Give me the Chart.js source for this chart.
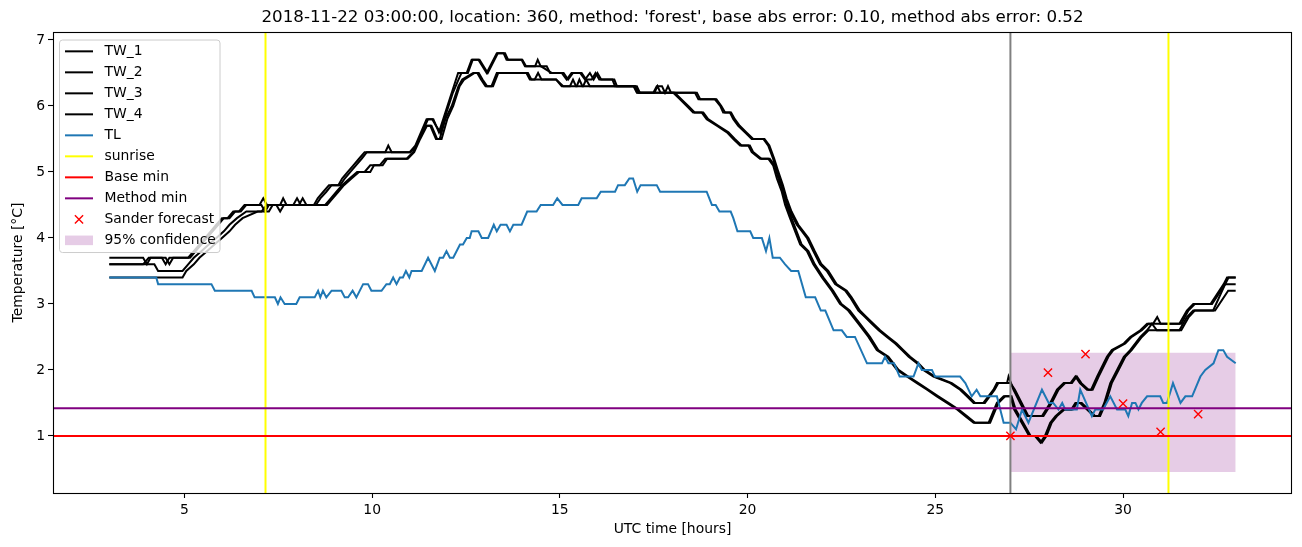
<!DOCTYPE html>
<html>
<head>
<meta charset="utf-8">
<script src="https://cdn.jsdelivr.net/npm/chart.js@4.4.0/dist/chart.umd.min.js"></script>
<style>
html, body { margin: 0; padding: 0; background: #ffffff; }
</style>
</head>
<body>
<canvas id="grafico" width="1302" height="547"></canvas>
<script>

/* EJES */
const xMin = 1.5
const xMax = 34.5
const yMin = 0.135
const yMax = 7.12
const xTicks = [5, 10, 15, 20, 25, 30]
const yTicks = [1, 2, 3, 4, 5, 6, 7]

/* SERIES [hora, temperatura] */
const tw1 = [[3.0,3.7],[3.9,3.7],[4.0,3.6],[4.1,3.7],[4.5,3.7],[4.6,3.6],[4.7,3.7],[5.1,3.7],[5.25,3.8],[5.4,3.9],[5.55,4.0],[5.7,4.1],[5.85,4.2],[6.0,4.3],[6.15,4.3],[6.3,4.4],[6.45,4.4],[6.6,4.5],[7.05,4.5],[7.15,4.4],[7.25,4.5],[7.55,4.5],[7.63,4.6],[7.72,4.5],[8.05,4.5],[8.15,4.6],[8.25,4.5],[8.45,4.5],[8.55,4.6],[8.7,4.7],[8.85,4.8],[9.1,4.8],[9.2,4.9],[9.35,5.0],[9.5,5.1],[9.65,5.2],[9.8,5.3],[10.35,5.3],[10.43,5.4],[10.52,5.3],[11.0,5.3],[11.15,5.4],[11.3,5.6],[11.45,5.8],[11.63,5.8],[11.78,5.6],[11.95,5.9],[12.12,6.2],[12.29,6.5],[12.52,6.5],[12.65,6.7],[12.83,6.7],[13.05,6.5],[13.32,6.8],[13.54,6.8],[13.62,6.7],[13.98,6.7],[14.07,6.6],[14.34,6.6],[14.41,6.7],[14.49,6.6],[14.65,6.6],[14.74,6.5],[15.05,6.5],[15.18,6.4],[15.31,6.5],[15.54,6.5],[15.67,6.4],[15.8,6.5],[15.9,6.4],[16.0,6.5],[16.1,6.4],[16.4,6.4],[16.47,6.3],[16.96,6.3],[17.05,6.2],[17.49,6.2],[17.58,6.3],[17.72,6.3],[17.8,6.2],[17.88,6.3],[17.96,6.2],[18.6,6.2],[18.69,6.1],[19.13,6.1],[19.27,6.0],[19.35,5.9],[19.53,5.9],[19.62,5.8],[19.75,5.7],[19.93,5.6],[20.11,5.5],[20.42,5.5],[20.55,5.4],[20.68,5.2],[20.78,5.0],[20.91,4.8],[21.0,4.6],[21.13,4.4],[21.31,4.2],[21.45,4.1],[21.58,4.0],[21.75,3.8],[21.93,3.6],[22.11,3.5],[22.33,3.3],[22.6,3.2],[22.73,3.1],[22.95,2.9],[23.13,2.8],[23.31,2.7],[23.49,2.6],[23.71,2.5],[23.93,2.4],[24.11,2.3],[24.29,2.2],[24.51,2.1],[24.68,2.0],[24.95,1.9],[25.4,1.8],[25.66,1.7],[25.84,1.6],[26.02,1.5],[26.28,1.5],[26.55,1.7],[26.64,1.8],[26.91,1.8],[26.95,1.9],[27.08,1.7],[27.26,1.5],[27.44,1.3],[27.84,1.3],[28.06,1.5],[28.24,1.7],[28.42,1.8],[28.6,1.8],[28.73,1.9],[28.85,1.8],[29.04,1.7],[29.15,1.7],[29.31,1.9],[29.57,2.2],[29.7,2.3],[30.02,2.4],[30.19,2.5],[30.46,2.6],[30.64,2.7],[30.8,2.7],[30.91,2.8],[31.0,2.7],[31.5,2.7],[31.7,2.9],[31.87,3.0],[32.33,3.0],[32.68,3.3],[32.77,3.4],[33.0,3.4]]

const tw2 = [[3.0,3.6],[3.9,3.6],[4.05,3.7],[4.4,3.7],[4.5,3.6],[4.6,3.7],[5.15,3.7],[5.3,3.8],[5.45,3.9],[5.6,4.0],[5.75,4.1],[5.9,4.2],[6.05,4.3],[6.2,4.3],[6.35,4.4],[6.5,4.4],[6.65,4.5],[7.0,4.5],[7.1,4.6],[7.2,4.5],[7.9,4.5],[8.0,4.6],[8.1,4.5],[8.5,4.5],[8.62,4.6],[8.78,4.7],[8.92,4.8],[9.15,4.8],[9.27,4.9],[9.42,5.0],[9.57,5.1],[9.72,5.2],[9.86,5.3],[11.02,5.3],[11.18,5.4],[11.33,5.6],[11.49,5.8],[11.6,5.8],[11.7,5.7],[11.82,5.6],[11.98,5.9],[12.15,6.2],[12.3,6.4],[12.38,6.5],[12.55,6.5],[12.68,6.7],[12.86,6.7],[13.08,6.5],[13.35,6.8],[13.5,6.8],[13.58,6.7],[14.0,6.7],[14.1,6.6],[14.5,6.6],[14.78,6.5],[15.1,6.5],[15.22,6.4],[15.35,6.5],[15.58,6.5],[15.7,6.4],[15.85,6.4],[15.95,6.5],[16.05,6.4],[16.45,6.4],[16.52,6.3],[17.0,6.3],[17.1,6.2],[17.52,6.2],[17.6,6.3],[17.68,6.2],[18.65,6.2],[18.74,6.1],[19.17,6.1],[19.3,6.0],[19.4,5.9],[19.56,5.9],[19.66,5.8],[19.79,5.7],[19.97,5.6],[20.15,5.5],[20.45,5.5],[20.58,5.4],[20.71,5.2],[20.82,5.0],[20.94,4.8],[21.04,4.6],[21.17,4.4],[21.35,4.2],[21.62,4.0],[21.79,3.8],[21.97,3.6],[22.15,3.5],[22.37,3.3],[22.64,3.2],[22.77,3.1],[22.99,2.9],[23.17,2.8],[23.35,2.7],[23.53,2.6],[23.75,2.5],[23.97,2.4],[24.15,2.3],[24.33,2.2],[24.55,2.1],[24.72,2.0],[24.99,1.9],[25.44,1.8],[25.7,1.7],[25.88,1.6],[26.06,1.5],[26.32,1.5],[26.58,1.7],[26.68,1.8],[27.0,1.8],[27.12,1.7],[27.3,1.5],[27.48,1.3],[27.88,1.3],[28.1,1.5],[28.28,1.7],[28.46,1.8],[28.64,1.8],[28.77,1.9],[28.89,1.8],[29.08,1.7],[29.19,1.7],[29.35,1.9],[29.61,2.2],[29.74,2.3],[30.06,2.4],[30.23,2.5],[30.5,2.6],[30.68,2.7],[31.55,2.7],[31.74,2.9],[31.91,3.0],[32.37,3.0],[32.72,3.3],[32.81,3.4],[33.0,3.4]]

const tw3 = [[3.0,3.6],[4.2,3.6],[4.3,3.5],[4.95,3.5],[5.1,3.6],[5.25,3.7],[5.45,3.8],[5.65,3.9],[5.85,4.0],[6.05,4.1],[6.2,4.2],[6.4,4.3],[6.65,4.4],[7.05,4.4],[7.2,4.5],[7.45,4.5],[7.55,4.4],[7.65,4.5],[8.75,4.5],[8.9,4.6],[9.05,4.7],[9.2,4.8],[9.4,4.9],[9.6,5.0],[9.8,5.0],[9.95,5.1],[10.2,5.1],[10.35,5.2],[10.92,5.2],[11.09,5.3],[11.25,5.5],[11.42,5.7],[11.55,5.7],[11.7,5.5],[11.8,5.5],[11.95,5.8],[12.12,6.0],[12.3,6.3],[12.4,6.4],[12.69,6.5],[12.8,6.5],[12.9,6.4],[13.02,6.3],[13.18,6.3],[13.32,6.5],[14.11,6.5],[14.2,6.4],[14.33,6.4],[14.42,6.5],[14.51,6.4],[14.9,6.4],[15.05,6.3],[15.27,6.3],[15.35,6.4],[15.43,6.3],[15.62,6.3],[15.7,6.4],[15.8,6.3],[17.0,6.3],[17.08,6.2],[18.02,6.2],[18.2,6.1],[18.38,6.0],[18.55,5.9],[18.78,5.9],[18.91,5.8],[19.18,5.7],[19.45,5.6],[19.62,5.5],[19.8,5.4],[20.02,5.4],[20.11,5.3],[20.33,5.2],[20.55,5.2],[20.68,5.1],[20.78,4.9],[20.91,4.7],[21.0,4.5],[21.13,4.3],[21.4,3.9],[21.58,3.8],[21.75,3.6],[21.98,3.4],[22.24,3.2],[22.46,3.0],[22.68,2.9],[22.95,2.7],[23.22,2.5],[23.44,2.3],[23.71,2.2],[23.98,2.0],[24.24,1.9],[24.51,1.8],[24.78,1.7],[25.04,1.6],[25.31,1.5],[25.58,1.4],[25.8,1.3],[26.02,1.2],[26.42,1.2],[26.64,1.5],[26.82,1.6],[27.0,1.6],[27.1,1.4],[27.3,1.2],[27.5,1.0],[27.65,1.0],[27.8,0.9],[27.92,1.0],[28.06,1.2],[28.2,1.3],[28.4,1.4],[28.62,1.4],[28.73,1.5],[28.86,1.5],[29.04,1.4],[29.22,1.3],[29.35,1.3],[29.5,1.5],[29.66,1.8],[29.84,2.0],[30.02,2.2],[30.19,2.3],[30.46,2.5],[30.64,2.6],[30.77,2.7],[30.9,2.6],[31.5,2.6],[31.7,2.8],[31.87,2.9],[32.4,2.9],[32.72,3.3],[33.0,3.3]]

const tw4 = [[3.0,3.4],[4.95,3.4],[5.05,3.5],[5.25,3.6],[5.4,3.7],[5.6,3.8],[5.8,3.9],[6.0,4.0],[6.2,4.1],[6.35,4.2],[6.55,4.3],[6.95,4.4],[7.25,4.4],[7.35,4.5],[8.8,4.5],[8.95,4.6],[9.1,4.7],[9.25,4.8],[9.45,4.9],[9.65,5.0],[9.95,5.0],[10.05,5.1],[10.28,5.1],[10.4,5.2],[10.95,5.2],[11.12,5.3],[11.28,5.5],[11.46,5.7],[11.58,5.7],[11.73,5.5],[11.85,5.5],[12.0,5.8],[12.16,6.0],[12.33,6.3],[12.45,6.4],[12.73,6.5],[12.84,6.5],[12.94,6.4],[13.06,6.3],[13.22,6.3],[13.36,6.5],[14.15,6.5],[14.24,6.4],[14.9,6.4],[15.09,6.3],[15.45,6.3],[15.52,6.4],[15.6,6.3],[17.05,6.3],[17.13,6.2],[18.06,6.2],[18.24,6.1],[18.42,6.0],[18.59,5.9],[18.82,5.9],[18.95,5.8],[19.22,5.7],[19.49,5.6],[19.66,5.5],[19.84,5.4],[20.06,5.4],[20.15,5.3],[20.37,5.2],[20.59,5.2],[20.72,5.1],[20.82,4.9],[20.95,4.7],[21.04,4.5],[21.17,4.3],[21.44,3.9],[21.62,3.8],[21.79,3.6],[22.02,3.4],[22.28,3.2],[22.5,3.0],[22.72,2.9],[22.99,2.7],[23.26,2.5],[23.48,2.3],[23.75,2.2],[24.02,2.0],[24.28,1.9],[24.55,1.8],[24.82,1.7],[25.08,1.6],[25.35,1.5],[25.62,1.4],[25.84,1.3],[26.06,1.2],[26.46,1.2],[26.68,1.5],[26.86,1.6],[27.03,1.6],[27.14,1.4],[27.34,1.2],[27.54,1.0],[27.69,1.0],[27.84,0.9],[27.96,1.0],[28.1,1.2],[28.24,1.3],[28.44,1.4],[28.66,1.4],[28.77,1.5],[28.9,1.5],[29.08,1.4],[29.26,1.3],[29.39,1.3],[29.54,1.5],[29.7,1.8],[29.88,2.0],[30.06,2.2],[30.23,2.3],[30.5,2.5],[30.68,2.6],[31.55,2.6],[31.75,2.8],[31.91,2.9],[32.45,2.9],[32.8,3.2],[33.0,3.2]]

const tl = [[3.0,3.4],[4.25,3.4],[4.3,3.3],[5.72,3.3],[5.81,3.2],[6.79,3.2],[6.87,3.1],[7.41,3.1],[7.49,3.0],[7.56,3.1],[7.67,3.0],[7.98,3.0],[8.07,3.1],[8.47,3.1],[8.56,3.2],[8.62,3.1],[8.69,3.2],[8.78,3.1],[8.92,3.2],[9.18,3.2],[9.27,3.1],[9.36,3.1],[9.48,3.2],[9.58,3.1],[9.76,3.3],[9.89,3.3],[9.98,3.2],[10.25,3.2],[10.38,3.3],[10.47,3.3],[10.56,3.4],[10.65,3.3],[10.74,3.4],[10.82,3.4],[10.9,3.5],[10.99,3.4],[11.05,3.5],[11.32,3.5],[11.49,3.7],[11.67,3.5],[11.8,3.7],[11.89,3.7],[11.98,3.8],[12.07,3.7],[12.16,3.7],[12.34,3.9],[12.42,3.9],[12.52,4.0],[12.6,4.0],[12.65,4.1],[12.83,4.1],[12.92,4.0],[13.09,4.0],[13.24,4.2],[13.32,4.1],[13.42,4.2],[13.58,4.2],[13.67,4.1],[13.76,4.2],[13.98,4.2],[14.13,4.4],[14.38,4.4],[14.49,4.5],[14.82,4.5],[14.93,4.6],[15.07,4.5],[15.49,4.5],[15.58,4.6],[15.98,4.6],[16.09,4.7],[16.47,4.7],[16.55,4.8],[16.73,4.8],[16.85,4.9],[16.95,4.9],[17.06,4.7],[17.15,4.8],[17.58,4.8],[17.67,4.7],[18.91,4.7],[19.05,4.5],[19.15,4.5],[19.25,4.4],[19.55,4.4],[19.62,4.3],[19.73,4.1],[20.07,4.1],[20.15,4.0],[20.38,4.0],[20.49,3.8],[20.58,4.0],[20.67,3.7],[20.86,3.7],[21.0,3.6],[21.16,3.5],[21.35,3.5],[21.55,3.1],[21.8,3.1],[21.95,2.9],[22.07,2.9],[22.29,2.6],[22.51,2.6],[22.64,2.5],[22.86,2.5],[23.18,2.1],[23.58,2.1],[23.66,2.2],[23.75,2.1],[23.9,2.1],[24.05,1.9],[24.42,1.9],[24.55,2.1],[24.64,2.0],[24.91,2.0],[24.99,1.9],[25.66,1.9],[25.8,1.8],[25.97,1.6],[26.1,1.7],[26.2,1.6],[26.64,1.6],[26.82,1.2],[27.0,1.2],[27.15,1.1],[27.31,1.4],[27.48,1.2],[27.84,1.7],[28.02,1.5],[28.14,1.5],[28.28,1.4],[28.38,1.5],[28.46,1.4],[28.77,1.4],[28.86,1.7],[28.94,1.6],[29.17,1.3],[29.26,1.4],[29.47,1.4],[29.66,1.6],[29.84,1.4],[30.06,1.4],[30.14,1.3],[30.24,1.5],[30.33,1.5],[30.41,1.4],[30.5,1.5],[30.64,1.6],[30.99,1.6],[31.07,1.5],[31.17,1.5],[31.33,1.8],[31.53,1.5],[31.66,1.6],[31.84,1.6],[32.06,1.9],[32.19,2.0],[32.41,2.1],[32.54,2.3],[32.67,2.3],[32.77,2.2],[33.0,2.1]]

/* MARCAS */
const sunriseHours = [7.16, 31.21]
const forecastHour = 27.0
const baseMin = 1.0
const methodMin = 1.42
const sanderHours = [27, 28, 29, 30, 31, 32]
const sanderValues = [1.0, 1.96, 2.24, 1.49, 1.06, 1.33]
const confidenceHours = [27, 33]
const confidenceLow = 0.452
const confidenceHigh = 2.26

const tituloTexto = "2018-11-22 03:00:00, location: 360, method: 'forest', base abs error: 0.10, method abs error: 0.52"
const fuente = "'DejaVu Sans', sans-serif"

function aPuntos(serie) {
    return serie.map(p => ({ x: p[0], y: p[1] }))
}

function lineaVertical(h) {
    return [{ x: h, y: yMin }, { x: h, y: yMax }]
}

function lineaHorizontal(v) {
    return [{ x: xMin, y: v }, { x: xMax, y: v }]
}

function linea(label, data, color, order) {
    return {
        label: label,
        data: data,
        borderColor: color,
        backgroundColor: color,
        borderWidth: 2,
        pointRadius: 0,
        tension: 0,
        fill: false,
        order: order
    }
}

let datasets = [
    linea("TW_1", aPuntos(tw1), "#000000", 90),
    linea("TW_2", aPuntos(tw2), "#000000", 89),
    linea("TW_3", aPuntos(tw3), "#000000", 88),
    linea("TW_4", aPuntos(tw4), "#000000", 87),
    linea("TL", aPuntos(tl), "#1f77b4", 86),
    linea("", lineaVertical(forecastHour), "#808080", 85),
    linea("sunrise", lineaVertical(sunriseHours[0]), "#ffff00", 84),
    linea("", lineaVertical(sunriseHours[1]), "#ffff00", 83),
    linea("Base min", lineaHorizontal(baseMin), "#ff0000", 82),
    linea("Method min", lineaHorizontal(methodMin), "#800080", 81),
    {
        label: "Sander forecast",
        data: sanderHours.map((h, i) => ({ x: h, y: sanderValues[i] })),
        showLine: false,
        pointStyle: "crossRot",
        pointRadius: 5.8,
        pointBorderWidth: 1.4,
        pointBorderColor: "#ff0000",
        borderColor: "#ff0000",
        backgroundColor: "#ff0000",
        order: 80
    },
    {
        label: "95% confidence",
        data: confidenceHours.map(h => ({ x: h, y: confidenceHigh })),
        borderWidth: 0,
        pointRadius: 0,
        borderColor: "rgba(0,0,0,0)",
        backgroundColor: "rgba(128,0,128,0.2)",
        fill: { value: confidenceLow },
        order: 100
    }
]

/* marco + leyenda dibujados encima */
const marco = {
    id: "marco",
    afterDatasetsDraw(chart) {
        const a = chart.chartArea
        const ctx = chart.ctx
        ctx.save()
        ctx.strokeStyle = "#000000"
        ctx.lineWidth = 1.1
        ctx.strokeRect(Math.round(a.left) + 0.5, Math.round(a.top) + 0.5, Math.round(a.right - a.left) - 1, Math.round(a.bottom - a.top))
        ctx.restore()
    }
}

const leyenda = {
    id: "leyenda",
    afterDraw(chart) {
        const ctx = chart.ctx
        const items = chart.data.datasets.filter(d => d.label)
        const x0 = chart.chartArea.left + 6.5
        const y0 = chart.chartArea.top + 8
        const w = 160.5
        const rowH = 21
        const h = items.length * rowH + 2.5
        const r = 3

        ctx.save()
        ctx.beginPath()
        ctx.moveTo(x0 + r, y0)
        ctx.arcTo(x0 + w, y0, x0 + w, y0 + h, r)
        ctx.arcTo(x0 + w, y0 + h, x0, y0 + h, r)
        ctx.arcTo(x0, y0 + h, x0, y0, r)
        ctx.arcTo(x0, y0, x0 + w, y0, r)
        ctx.closePath()
        ctx.fillStyle = "rgba(255,255,255,0.8)"
        ctx.fill()
        ctx.strokeStyle = "#cccccc"
        ctx.lineWidth = 1
        ctx.stroke()

        ctx.font = "13.9px " + fuente
        ctx.textBaseline = "middle"
        ctx.textAlign = "left"

        items.forEach((d, i) => {
            const cy = y0 + 11.3 + i * rowH
            const lx1 = x0 + 5.5
            const lx2 = x0 + 33.5
            if (d.showLine === false) {
                const cx = (lx1 + lx2) / 2
                const s = 4.1
                ctx.strokeStyle = d.pointBorderColor
                ctx.lineWidth = 1.4
                ctx.beginPath()
                ctx.moveTo(cx - s, cy - s); ctx.lineTo(cx + s, cy + s)
                ctx.moveTo(cx - s, cy + s); ctx.lineTo(cx + s, cy - s)
                ctx.stroke()
            } else if (d.fill) {
                ctx.fillStyle = d.backgroundColor
                ctx.fillRect(lx1, cy - 4.8, lx2 - lx1, 9.6)
            } else {
                ctx.strokeStyle = d.borderColor
                ctx.lineWidth = d.borderWidth
                ctx.beginPath()
                ctx.moveTo(lx1, cy)
                ctx.lineTo(lx2, cy)
                ctx.stroke()
            }
            ctx.fillStyle = "#000000"
            ctx.fillText(d.label, x0 + 45, cy + 0.5)
        })
        ctx.restore()
    }
}

const ejeComun = {
    type: "linear",
    grid: { drawOnChartArea: false, drawTicks: true, tickLength: 5, color: "#000000", tickWidth: 1.1 },
    border: { display: false },
    ticks: { font: { family: fuente, size: 13.9 }, color: "#000000", autoSkip: false, maxRotation: 0 }
}

var chart = new Chart(document.getElementById("grafico").getContext("2d"), {
    type: "line",
    data: { datasets: datasets },
    options: {
        responsive: false,
        animation: false,
        layout: { padding: { left: 0, right: 10, top: 0, bottom: 0 } },
        plugins: {
            legend: { display: false },
            tooltip: { enabled: false },
            title: {
                display: true,
                text: tituloTexto,
                fullSize: false,
                color: "#000000",
                font: { family: fuente, size: 16.7, weight: "normal", lineHeight: 1.2 },
                padding: { top: 8, bottom: 4 }
            }
        },
        scales: {
            x: Object.assign({}, ejeComun, {
                min: xMin,
                max: xMax,
                ticks: Object.assign({}, ejeComun.ticks, { padding: 4 }),
                afterBuildTicks: s => { s.ticks = xTicks.map(v => ({ value: v })) },
                afterFit: s => { s.height = 54 },
                title: { display: true, text: "UTC time [hours]", color: "#000000", font: { family: fuente, size: 13.9 }, padding: { top: 0, bottom: 9.7 } }
            }),
            y: Object.assign({}, ejeComun, {
                min: yMin,
                max: yMax,
                ticks: Object.assign({}, ejeComun.ticks, { padding: 3 }),
                afterBuildTicks: s => { s.ticks = yTicks.map(v => ({ value: v })) },
                afterFit: s => { s.width = 53 },
                title: { display: true, text: "Temperature [°C]", color: "#000000", font: { family: fuente, size: 13.9 }, padding: { top: 9.7, bottom: 0 } }
            })
        }
    },
    plugins: [marco, leyenda]
})
</script>
</body>
</html>
